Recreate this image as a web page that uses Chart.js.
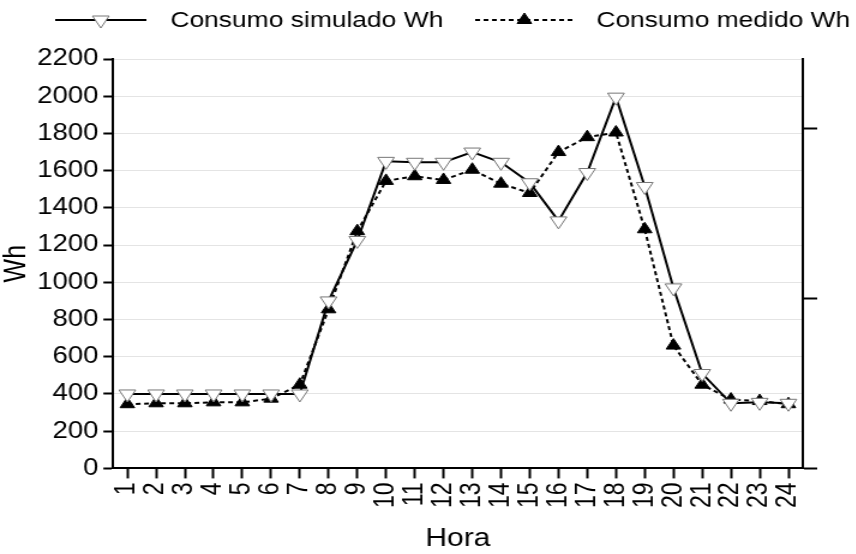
<!DOCTYPE html>
<html>
<head>
<meta charset="utf-8">
<script src="https://cdn.jsdelivr.net/npm/chart.js@4/dist/chart.umd.min.js"></script>
<style>
  html, body { margin: 0; padding: 0; background: #fff; overflow: hidden; }
  #wrap { width: 713px; height: 554px; transform: scaleX(1.2); transform-origin: 0 0; }
</style>
</head>
<body>
<div id="wrap"><canvas id="myChart" width="713" height="554"></canvas></div>
<script>
// hours of the day
const hours = ['1','2','3','4','5','6','7','8','9','10','11','12','13','14','15','16','17','18','19','20','21','22','23','24'];
// Wh values
const simulado = [400,400,400,400,400,400,400,900,1225,1650,1645,1645,1700,1645,1535,1330,1590,1995,1515,970,510,350,355,350];
const medido = [345,350,350,355,355,375,450,855,1275,1545,1570,1550,1605,1530,1480,1700,1780,1805,1285,660,450,370,362,345];
const labelSim = 'Consumo simulado Wh';
const labelMed = 'Consumo medido Wh';

const fontName = '"Liberation Sans", Arial, Helvetica, sans-serif';

function drawTriangle(ctx, x, y, r, down, fill, stroke) {
    ctx.save();
    ctx.beginPath();
    let s = down ? -1 : 1;
    ctx.moveTo(x, y - s * r);
    ctx.lineTo(x - r * 0.866, y + s * r * 0.5);
    ctx.lineTo(x + r * 0.866, y + s * r * 0.5);
    ctx.closePath();
    ctx.fillStyle = fill;
    ctx.fill();
    ctx.lineWidth = 1;
    ctx.strokeStyle = stroke;
    ctx.stroke();
    ctx.restore();
}

// legend at the top, drawn by hand so the line style shows with the marker
const topLegend = {
    id: 'topLegend',
    afterDraw(chart) {
        const ctx = chart.ctx;
        const items = [
            { x0: 46, x1: 122, tx: 142, ds: chart.data.datasets[0], down: true },
            { x0: 396, x1: 478, tx: 497, ds: chart.data.datasets[1], down: false }
        ];
        let y = 20;
        items.forEach((it) => {
            ctx.save();
            ctx.beginPath();
            ctx.setLineDash(it.ds.borderDash || []);
            ctx.lineWidth = 2;
            ctx.strokeStyle = '#000';
            ctx.moveTo(it.x0, y);
            ctx.lineTo(it.x1, y);
            ctx.stroke();
            ctx.restore();
            drawTriangle(ctx, (it.x0 + it.x1) / 2, y, it.down ? 8 : 7, it.down, it.ds.pointBackgroundColor, it.ds.pointBorderColor);
            ctx.save();
            ctx.fillStyle = '#000';
            ctx.font = '22px ' + fontName;
            ctx.textBaseline = 'middle';
            ctx.fillText(it.ds.label, it.tx, y + 1);
            ctx.restore();
        });
    }
};

const data = {
    labels: hours,
    datasets: [{
        label: labelSim,
        data: simulado,
        borderColor: '#000',
        borderWidth: 2,
        pointStyle: 'triangle',
        rotation: 180,
        pointRadius: 8,
        pointBackgroundColor: '#fff',
        pointBorderColor: '#777',
        pointBorderWidth: 1,
        tension: 0
    }, {
        label: labelMed,
        data: medido,
        borderColor: '#000',
        borderWidth: 2,
        borderDash: [4, 3],
        pointStyle: 'triangle',
        pointRadius: 7,
        pointBackgroundColor: '#000',
        pointBorderColor: '#000',
        pointBorderWidth: 1,
        tension: 0
    }]
};

const config = {
    type: 'line',
    data: data,
    options: {
        responsive: false,
        animation: false,
        layout: { padding: { left: 2, right: 32, top: 59, bottom: 0 } },
        plugins: {
            legend: { display: false },
            tooltip: { enabled: false }
        },
        scales: {
            x: {
                type: 'category',
                offset: true,
                grid: { offset: false, drawOnChartArea: false, tickLength: 10, tickColor: '#000', tickWidth: 2 },
                border: { color: '#000', width: 2 },
                ticks: { autoSkip: false, minRotation: 90, maxRotation: 90, color: '#000', padding: 4, font: { family: fontName, size: 23 } },
                title: { display: true, text: 'Hora', color: '#000', padding: { top: 12, bottom: 0 }, font: { family: fontName, size: 25 } }
            },
            y: {
                min: 0,
                max: 2200,
                grid: { color: '#e4e4e4', lineWidth: 1, tickLength: 8, tickColor: '#000', tickWidth: 2 },
                border: { color: '#000', width: 2 },
                ticks: {
                    stepSize: 200, color: '#000', padding: 4, font: { family: fontName, size: 23 },
                    callback: (v) => String(v)
                },
                title: { display: true, text: 'Wh', color: '#000', padding: { top: 0, bottom: 0 }, font: { family: fontName, size: 25, lineHeight: 1 } }
            },
            y2: {
                position: 'right',
                min: 0,
                max: 2.406,
                grid: { drawOnChartArea: false, tickLength: 12, tickColor: '#000', tickWidth: 2 },
                border: { color: '#000', width: 2 },
                ticks: { stepSize: 1, includeBounds: false, display: false }
            }
        }
    },
    plugins: [topLegend]
};

const myChart = new Chart(document.getElementById('myChart'), config);
</script>
</body>
</html>
